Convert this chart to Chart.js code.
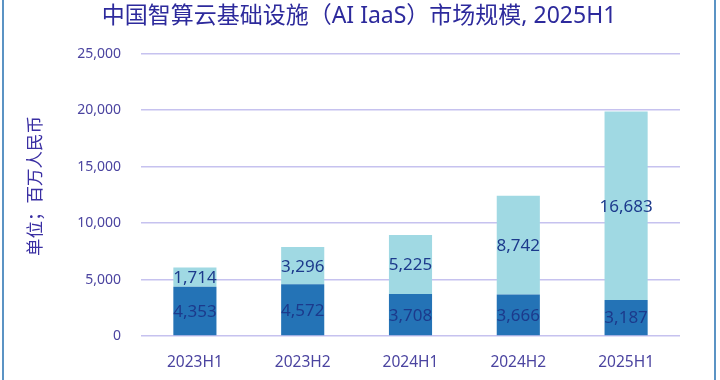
<!DOCTYPE html>
<html>
<head>
<meta charset="utf-8">
<script src="https://cdn.jsdelivr.net/npm/chart.js@4"></script>
<style>
  html, body { margin: 0; padding: 0; background: #fff; }
  #wrap { position: relative; width: 720px; height: 380px; }
  #frame { position: absolute; left: 2px; top: 0; width: 710px; height: 380px;
           border-left: 2px solid #5b93c4; border-right: 2px solid #5b93c4; pointer-events: none; }
  canvas { position: absolute; left: 0; top: 0; }
</style>
</head>
<body>
<div id="wrap">
  <canvas id="marketChart" width="720" height="380"></canvas>
  <div id="frame"></div>
</div>
<script>
// 中国智算云基础设施 (AI IaaS) 市场规模
const periods = ['2023H1', '2023H2', '2024H1', '2024H2', '2025H1'];
const lowerValues = [4353, 4572, 3708, 3666, 3187];
const upperValues = [1714, 3296, 5225, 8742, 16683];

const fontFamily = '"Noto Sans", "Noto Sans CJK SC", sans-serif';

// 柱内数值标签
const barLabels = {
    id: 'barLabels',
    afterDatasetsDraw(chart) {
        const ctx = chart.ctx;
        ctx.save();
        ctx.font = '17px ' + fontFamily;
        ctx.fillStyle = '#1c3a8c';
        ctx.textAlign = 'center';
        ctx.textBaseline = 'middle';
        chart.data.datasets.forEach((ds, i) => {
            chart.getDatasetMeta(i).data.forEach((bar, j) => {
                const v = ds.data[j];
                ctx.fillText(v.toLocaleString('en-US'), bar.x, (bar.y + bar.base) / 2 + 1);
            });
        });
        ctx.restore();
    }
};

const ctx = document.getElementById('marketChart').getContext('2d');
new Chart(ctx, {
    type: 'bar',
    data: {
        labels: periods,
        datasets: [
            { label: 'lower', data: lowerValues, backgroundColor: '#2473b6', barPercentage: 0.4, categoryPercentage: 1 },
            { label: 'upper', data: upperValues, backgroundColor: '#a0d9e3', barPercentage: 0.4, categoryPercentage: 1 }
        ]
    },
    options: {
        responsive: false,
        animation: false,
        layout: { padding: { left: 38, right: 40, top: 0, bottom: 0 } },
        plugins: {
            legend: { display: false },
            tooltip: { enabled: false },
            title: {
                display: true,
                text: '中国智算云基础设施（AI IaaS）市场规模, 2025H1',
                color: '#2d2a9c',
                font: { family: fontFamily, size: 23, weight: 'normal' },
                padding: { top: 3, bottom: 23 }
            }
        },
        scales: {
            x: {
                stacked: true,
                afterFit(scale) { scale.height = 44; },
                grid: { display: false },
                border: { display: false },
                ticks: { color: '#4b44a0', font: { family: fontFamily, size: 15.5 }, padding: 9 }
            },
            y: {
                stacked: true,
                min: 0,
                max: 25000,
                afterFit(scale) { scale.width = 103; },
                border: { display: false },
                grid: { color: '#c6c2ef', lineWidth: 1.5, drawTicks: false },
                ticks: {
                    stepSize: 5000,
                    padding: 20,
                    color: '#4b44a0',
                    font: { family: fontFamily, size: 14 },
                    callback: v => v.toLocaleString('en-US')
                },
                title: {
                    display: true,
                    text: '　单位；百万人民币',
                    color: '#3a2fa3',
                    font: { family: fontFamily, size: 17.5 },
                    padding: { top: -12, bottom: 0 }
                }
            }
        }
    },
    plugins: [barLabels]
});
</script>
</body>
</html>
